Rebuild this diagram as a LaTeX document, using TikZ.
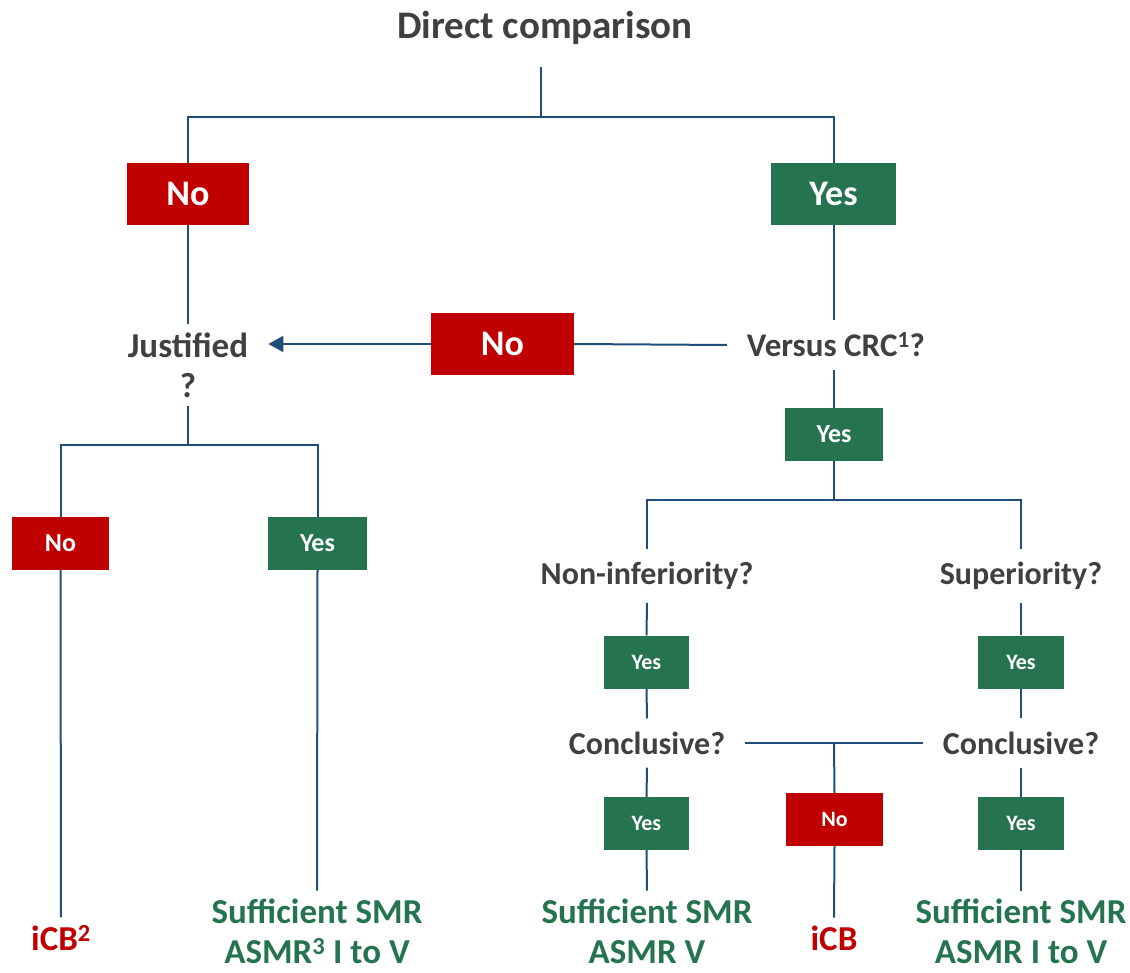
\documentclass[tikz,border=0pt]{standalone}
\usepackage{fontspec}
\setmainfont{Carlito}
\usetikzlibrary{positioning,arrows.meta}
\definecolor{noRed}{HTML}{C00000}
\definecolor{yesGreen}{HTML}{26734F}
\definecolor{textGray}{HTML}{404040}
\definecolor{linkBlue}{HTML}{1F4E79}
\begin{document}
\begin{tikzpicture}[x=1pt, y=-1pt, bigbox/.style={fill=#1, text=white, font=\bfseries\fontsize{36}{40}\selectfont, minimum height=62pt, inner sep=0pt}, smallbox/.style={fill=#1, text=white, font=\bfseries\fontsize{22}{26}\selectfont, minimum height=53pt, inner sep=0pt}, question/.style={text=textGray, font=\bfseries\fontsize{32}{40}\selectfont, align=center, inner xsep=20pt, inner ysep=13pt}, outcome/.style={text=#1, font=\bfseries\fontsize{35}{40}\selectfont, align=center, inner sep=1pt, outer sep=7pt}, link/.style={draw=linkBlue, line width=2pt}]
\useasboundingbox (0,0) rectangle (1130,973);
\node[text=textGray, font=\bfseries\fontsize{39}{44}\selectfont, inner sep=22pt] (title) at (545,28) {Direct comparison};
\coordinate (split) at (541,117);
\node[bigbox=noRed, minimum width=122pt] (noDirect) at (188,194) {No};
\node[bigbox=yesGreen, minimum width=125pt] (yesDirect) at (833.5,194) {Yes};
\node[question, font=\bfseries\fontsize{35}{40}\selectfont, inner ysep=8pt] (justified) at (188,365) {Justified\\?};
\node[question, font=\bfseries\fontsize{33}{40}\selectfont] (versus) at (836,345) {Versus CRC\textsuperscript{1}?};
\node[bigbox=noRed, minimum width=143pt] (noVersus) at (502.5,344) {No};
\node[smallbox=yesGreen, minimum width=98pt, font=\bfseries\fontsize{26}{30}\selectfont] (yesVersus) at (834,434.5) {Yes};
\node[smallbox=noRed, minimum width=97pt, font=\bfseries\fontsize{26}{30}\selectfont] (noJust) at (60.5,543.5) {No};
\node[smallbox=yesGreen, minimum width=99pt, font=\bfseries\fontsize{26}{30}\selectfont] (yesJust) at (317.5,543.5) {Yes};
\node[question] (noninf) at (647,576) {Non-inferiority?};
\node[question] (superior) at (1021,576) {Superiority?};
\node[smallbox=yesGreen, minimum width=85pt] (yesNoninf) at (646.5,662) {Yes};
\node[smallbox=yesGreen, minimum width=86pt] (yesSuperior) at (1021,662) {Yes};
\node[question] (conclA) at (647,743) {Conclusive?};
\node[question] (conclB) at (1021,743) {Conclusive?};
\node[smallbox=yesGreen, minimum width=85pt] (yesConclA) at (646.5,823.5) {Yes};
\node[smallbox=noRed, minimum width=97pt] (noConcl) at (834.5,819.5) {No};
\node[smallbox=yesGreen, minimum width=86pt] (yesConclB) at (1021,823.5) {Yes};
\node[outcome=noRed] (icbJust) at (61,938) {iCB\textsuperscript{2}};
\node[outcome=yesGreen] (smrJust) at (317,931) {Sufficient SMR\\ASMR\textsuperscript{3} I to V};
\node[outcome=yesGreen] (smrNoninf) at (647,931) {Sufficient SMR\\ASMR V};
\node[outcome=noRed] (icbConcl) at (834,938) {iCB};
\node[outcome=yesGreen] (smrSuperior) at (1021,931) {Sufficient SMR\\ASMR I to V};
\draw[link] (title.south -| split) -- (split) -| (noDirect.north);
\draw[link] (split) -| (yesDirect.north);
\draw[link] (noDirect.south) -- (justified.north);
\draw[link] (yesDirect.south) -- (versus.north -| yesDirect.south);
\draw[link] (versus.west) -- (noVersus.east);
\draw[link, -{Triangle[length=15pt, width=16pt]}] (noVersus.west) -- (noVersus.west -| justified.east);
\draw[link] (versus.south -| yesVersus.north) -- (yesVersus.north);
\draw[link] (yesVersus.south) -- (834,500) -| (noninf.north);
\draw[link] (834,500) -| (superior.north);
\draw[link] (justified.south) -- (188,445) -| (noJust.north);
\draw[link] (188,445) -| (yesJust.north);
\draw[link] (noJust.south) -- (icbJust.north);
\draw[link] (yesJust.south) -- (smrJust.north);
\draw[link] (noninf.south) -- (yesNoninf.north);
\draw[link] (yesNoninf.south) -- (conclA.north);
\draw[link] (superior.south) -- (yesSuperior.north);
\draw[link] (yesSuperior.south) -- (conclB.north);
\draw[link] (conclA.east) -- (conclB.west);
\draw[link] (834,743) -- (noConcl.north);
\draw[link] (noConcl.south) -- (icbConcl.north);
\draw[link] (conclA.south) -- (yesConclA.north);
\draw[link] (yesConclA.south) -- (smrNoninf.north);
\draw[link] (conclB.south) -- (yesConclB.north);
\draw[link] (yesConclB.south) -- (smrSuperior.north);
\end{tikzpicture}
\end{document}
